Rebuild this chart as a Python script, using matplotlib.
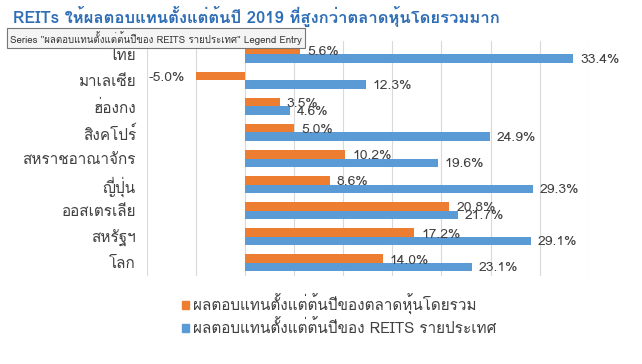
import numpy as np
import matplotlib
matplotlib.use('Agg')
import matplotlib.pyplot as plt

# Data (top to bottom)
countries = ['ไทย', 'มาเลเซีย', 'ฮ่องกง', 'สิงคโปร์', 'สหราชอาณาจักร',
             'ญี่ปุ่น', 'ออสเตรเลีย', 'สหรัฐฯ', 'โลก']
market_ytd = [5.6, -5.0, 3.5, 5.0, 10.2, 8.6, 20.8, 17.2, 14.0]
reits_ytd = [33.4, 12.3, 4.6, 24.9, 19.6, 29.3, 21.7, 29.1, 23.1]

title = 'REITs ให้ผลตอบแทนตั้งแต่ต้นปี 2019 ที่สูงกว่าตลาดหุ้นโดยรวมมาก'
market_label = 'ผลตอบแทนตั้งแต่ต้นปีของตลาดหุ้นโดยรวม'
reits_label = 'ผลตอบแทนตั้งแต่ต้นปีของ REITS รายประเทศ'
tooltip = 'Series "ผลตอบแทนตั้งแต่ต้นปีของ REITS รายประเทศ" Legend Entry'

# Loma is a Tahoma-like Thai face
plt.rcParams['font.family'] = ['Loma', 'Noto Sans Thai Looped', 'DejaVu Sans']

ORANGE = '#ED7D31'
BLUE = '#5B9BD5'
TEXT = '#404040'

fig = plt.figure(figsize=(6.42, 3.64), dpi=100)
ax = fig.add_axes([0.229, 0.242, 0.688, 0.645])

y = np.arange(len(countries))
h = 0.33
ax.barh(y - h / 2, market_ytd, height=h, color=ORANGE, zorder=3)
ax.barh(y + h / 2, reits_ytd, height=h, color=BLUE, zorder=3)

for yi, v in zip(y, market_ytd):
    ax.annotate(f'{v:.1f}%', (v, yi - h / 2 + 0.08), xytext=(5 if v >= 0 else -8, 0),
                textcoords='offset points', va='center',
                ha='left' if v >= 0 else 'right', fontsize=10, color=TEXT, zorder=4)
for yi, v in zip(y, reits_ytd):
    ax.annotate(f'{v:.1f}%', (v, yi + h / 2 + 0.05), xytext=(5, 0),
                textcoords='offset points', va='center', ha='left',
                fontsize=10, color=TEXT, zorder=4)

ax.set_xlim(-10, 35)
ax.set_ylim(len(countries) - 0.5, -0.5)
ax.set_xticks(np.arange(-10, 36, 5))
ax.set_xticklabels([])
ax.set_yticks(y)
ax.set_yticklabels(countries, fontsize=11, color=TEXT)
ax.tick_params(length=0, pad=8)
ax.grid(axis='x', color='#D9D9D9', linewidth=0.8, zorder=0)
for s in ax.spines.values():
    s.set_visible(False)

fig.text(0.02, 0.955, title, fontsize=12, fontweight='bold', color='#2F6EB5',
         va='center', ha='left')

# legend drawn by hand at the bottom
lx, ly1, ly2 = 0.283, 0.163, 0.1
fig.patches.append(plt.Rectangle((lx, ly1 - 0.012), 0.011, 0.022, color=ORANGE,
                                 transform=fig.transFigure))
fig.patches.append(plt.Rectangle((lx, ly2 - 0.012), 0.011, 0.022, color=BLUE,
                                 transform=fig.transFigure))
fig.text(lx + 0.018, ly1, market_label, fontsize=11, color=TEXT, va='center')
fig.text(lx + 0.018, ly2, reits_label, fontsize=11, color=TEXT, va='center')

# tooltip overlay seen in the screenshot
fig.text(0.016, 0.896, tooltip, fontsize=7, color='#333333', va='center', ha='left',
         bbox=dict(boxstyle='square,pad=0.3', facecolor='#F4F4F4', edgecolor='#767676',
                   linewidth=0.8), zorder=10)

fig.savefig('out.png', dpi=100)
